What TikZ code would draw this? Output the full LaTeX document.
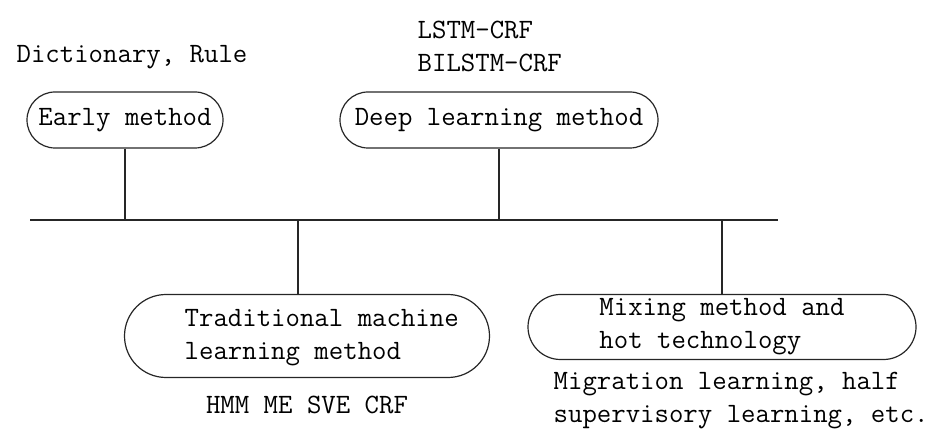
\documentclass[tikz,border=0pt]{standalone}
\usepackage{tikz}
\usetikzlibrary{shapes.misc,calc}

\tikzset{
  pill/.style={draw=black!85,line width=.9pt,rounded rectangle,inner sep=0pt},
  stem/.style={draw=black!85,line width=.9pt},
}

\begin{document}
\begin{tikzpicture}[x=.75pt,y=-.75pt,font=\ttfamily\fontsize{21}{24.75}\selectfont]
\useasboundingbox (0,0) rectangle (931,434);
% upper branch: early and deep learning methods
\node (dict) at (132,57) {Dictionary, Rule};
\node[pill,minimum width=147pt,minimum height=42pt] (early) at (125,120) {Early method};
\node[align=left,anchor=west] (lstm) at (413,46) {LSTM-CRF\\BILSTM-CRF};
\node[pill,minimum width=238.5pt,minimum height=42pt] (deep) at (499,120) {Deep learning method};
% the time line
\coordinate (busL) at (30,220);
\coordinate (busR) at (778,220);
\draw[stem] (busL)--(busR);
\draw[stem] (early.south)--(early.south|-busL);
\draw[stem] (deep.south)--(deep.south|-busL);
% lower branch: machine learning and mixed methods
\node[pill,minimum width=273.75pt,minimum height=62.25pt] (trad) at (307,336) {};
\node[align=left,anchor=west] (tradtext) at (180,338) {Traditional machine\\learning method};
\node (hmm) at (307,405) {HMM ME SVE CRF};
\node[pill,minimum width=291pt,minimum height=48.75pt,align=left] (mix) at (722,327) {Mixing method and\\hot technology};
\node[align=left,anchor=west] (migr) at (549,401) {Migration learning, half\\supervisory learning, etc.};
\coordinate (busT) at (298,220);
\draw[stem] (busT)--(busT|-trad.north);
\draw[stem] (mix.north)--(mix.north|-busR);
\end{tikzpicture}
\end{document}
